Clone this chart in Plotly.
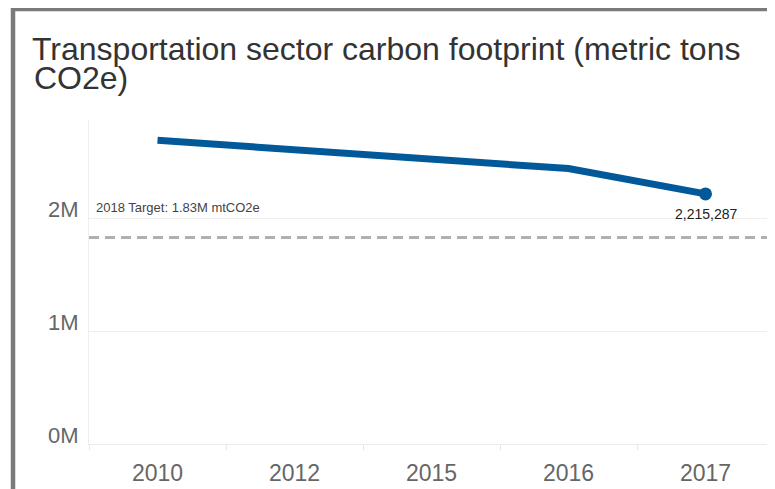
import plotly.graph_objects as go

years = ["2010", "2012", "2015", "2016", "2017"]
emissions = [2690000, 2610000, 2530000, 2440000, 2215287]
target_value = 1830000
target_label = "2018 Target: 1.83M mtCO2e"
y_tick_vals = [0, 1000000, 2000000]
y_tick_text = ["0M", "1M", "2M"]
title_line1 = "Transportation sector carbon footprint (metric tons"
title_line2 = "CO2e)"

FONT = "Liberation Sans, Arial, sans-serif"
W, H = 775, 489
L, R, T, B = 81, 9, 112, 53
pw, ph = W - L - R, H - T - B


def px_x(x):
    return (x - L) / pw


def px_y(y):
    return (H - B - y) / ph


fig = go.Figure()
fig.add_trace(go.Scatter(
    x=years, y=emissions, mode="lines",
    line=dict(color="#01599a", width=7),
    hoverinfo="skip", showlegend=False,
))
fig.add_trace(go.Scatter(
    x=[years[-1]], y=[emissions[-1]], mode="markers",
    marker=dict(color="#01599a", size=13),
    hoverinfo="skip", showlegend=False,
))

frame = dict(color="#7a7a7a", width=4.5)
shapes = [
    dict(type="line", xref="paper", yref="y", x0=0, x1=1,
         y0=target_value, y1=target_value,
         line=dict(color="#b0b0b0", width=3, dash="10px,6px")),
    dict(type="line", xref="paper", yref="paper",
         x0=px_x(5), x1=px_x(5), y0=px_y(H - 1), y1=px_y(-1), line=frame),
    dict(type="line", xref="paper", yref="paper",
         x0=px_x(3), x1=px_x(772), y0=px_y(1), y1=px_y(1), line=frame),
    dict(type="line", xref="paper", yref="paper",
         x0=px_x(770), x1=px_x(770), y0=px_y(H - 1), y1=px_y(-1), line=frame),
]

fig.update_layout(
    width=W, height=H,
    margin=dict(l=L, r=R, t=T, b=B, autoexpand=False),
    paper_bgcolor="white", plot_bgcolor="white",
    font=dict(family=FONT, color="#666666"),
    title=dict(text=title_line1, x=24 / W, xanchor="left", xref="container",
               y=1 - 30 / H, yanchor="top", yref="container",
               font=dict(family=FONT, size=32, color="#333333")),
    shapes=shapes,
    annotations=[
        dict(text=title_line2, xref="paper", yref="paper", x=px_x(24), y=px_y(50),
             xanchor="left", yanchor="top", showarrow=False,
             font=dict(family=FONT, size=32, color="#333333")),
        dict(text=target_label, xref="paper", yref="y", x=px_x(86), y=target_value,
             xanchor="left", yanchor="bottom", yshift=20, showarrow=False,
             font=dict(family=FONT, size=13, color="#444444")),
        dict(text=f"{emissions[-1]:,}", xref="x", yref="y", x=len(years) - 1,
             y=emissions[-1],
             xanchor="center", yanchor="middle", yshift=-20, showarrow=False,
             font=dict(family=FONT, size=14, color="#222222")),
    ],
    xaxis=dict(
        type="category", range=[-0.5, 4.5], automargin=False,
        showgrid=False, zeroline=False,
        showline=True, linecolor="#ececec", linewidth=1,
        ticks="outside", tickson="boundaries", ticklen=5, tickcolor="#e6e6e6",
        tickfont=dict(size=23, color="#666666"),
        ticklabelstandoff=8,
    ),
    yaxis=dict(
        range=[0, 2870000], tickvals=y_tick_vals, ticktext=y_tick_text,
        automargin=False,
        showgrid=True, gridcolor="#eeeeee", gridwidth=1,
        zeroline=False, showline=True, linecolor="#eeeeee",
        tickfont=dict(size=22, color="#666666"),
        ticklabelstandoff=5, ticklabelshift=-9,
    ),
)

fig.write_html("out.html")
